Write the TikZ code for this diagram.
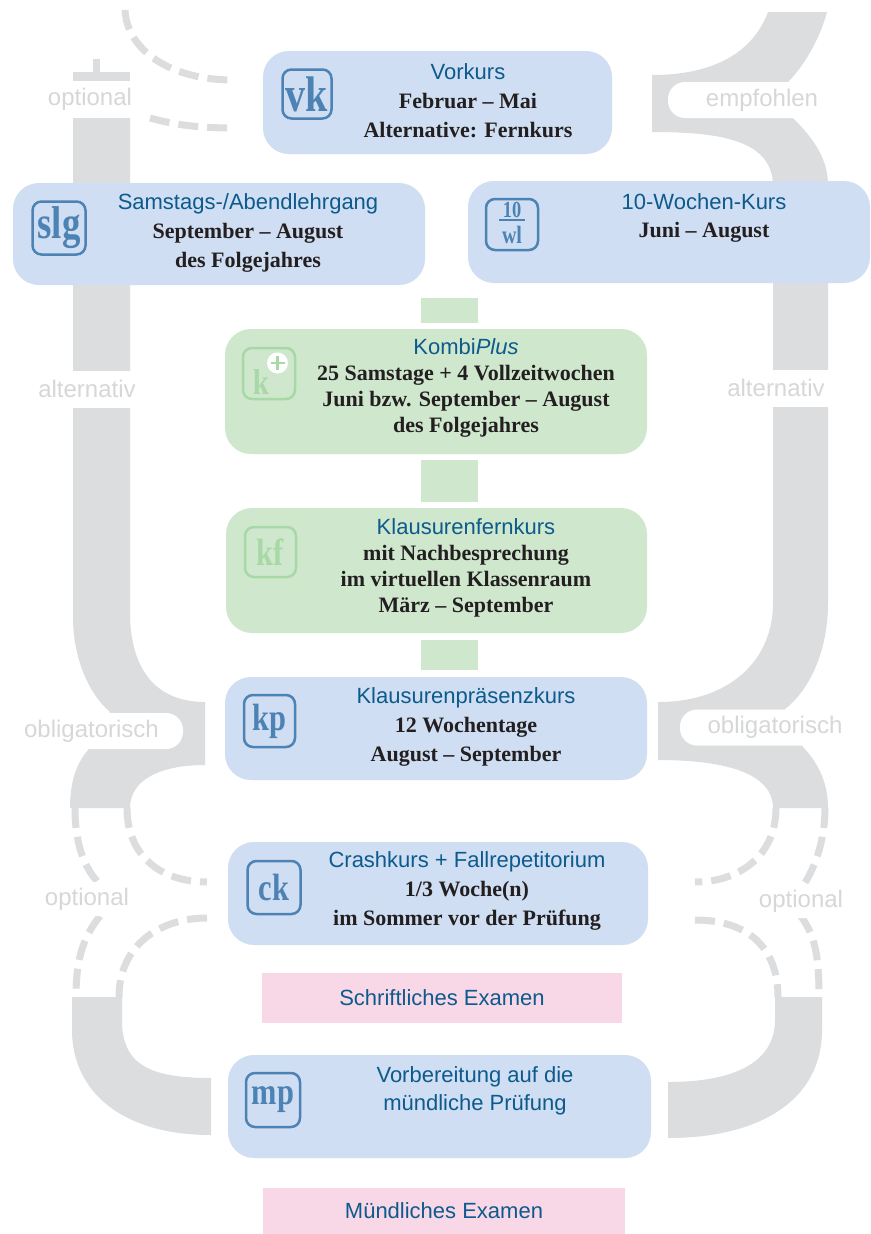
\documentclass[tikz,border=0pt]{standalone}
\usepackage{fontspec}
\setmainfont{Liberation Serif}
\setsansfont{Liberation Sans}
\usepackage{graphicx}
\usepackage{tikz}
\usetikzlibrary{backgrounds}

\definecolor{bandgrau}{HTML}{DCDDDF}
\definecolor{schriftgrau}{HTML}{D6D7D9}
\definecolor{kastenblau}{HTML}{CFDEF2}
\definecolor{kastengruen}{HTML}{CFE8CD}
\definecolor{kastenrosa}{HTML}{F8D7E6}
\definecolor{titelblau}{HTML}{0D5A8C}
\definecolor{symbolblau}{HTML}{4D82B4}
\definecolor{symbolgruen}{HTML}{A8D8A6}
\definecolor{textschwarz}{HTML}{231F20}

\newcommand{\kurs}[1]{{\sffamily\mdseries\color{titelblau}#1}}
\newcommand{\kuerzel}[2]{{\fontsize{#1}{#1}\selectfont\scalebox{0.8}[1]{#2}}}

\begin{document}
\begin{tikzpicture}[x=1pt, y=-1pt,
  grauband/.style={fill=bandgrau},
  optlinie/.style={draw=bandgrau, line width=7pt, dash pattern=on 20pt off 9pt},
  etikett/.style={text=schriftgrau, font=\sffamily\fontsize{24}{24}\selectfont, inner sep=0pt},
  pille/.style={etikett, fill=white, rounded corners=17pt, minimum height=36pt},
  kasten/.style={fill=kastenblau, rounded corners=26pt, inner sep=0pt},
  gruenkasten/.style={kasten, fill=kastengruen},
  pruefung/.style={fill=kastenrosa, minimum width=360pt, inner sep=0pt, text=titelblau, font=\sffamily\fontsize{22}{22}\selectfont},
  kursicon/.style={draw=symbolblau, line width=2.5pt, rounded corners=9pt, inner sep=0pt, text=symbolblau, font=\bfseries},
  gruenicon/.style={kursicon, draw=symbolgruen, text=symbolgruen},
  kurstext/.style={align=center, text=textschwarz, font=\bfseries\fontsize{22}{29}\selectfont},
  verbinder/.style={draw=kastengruen, line width=57pt}]
\path[use as bounding box, fill=white] (0,0) rectangle (870,1234);

\fill[grauband] (768,12) -- (827,12) .. controls (818,45) and (800,70) .. (788,82) -- (793,118) .. controls (815,140) and (828,160) .. (828,185) -- (828,603) .. controls (828,650) and (810,690) .. (785,709) -- (803,747) .. controls (820,765) and (828,785) .. (828,808) -- (773,808) .. controls (773,775) and (730,760) .. (658,760) -- (658,702) .. controls (730,702) and (773,660) .. (773,603) -- (773,185) .. controls (772,140) and (720,132) .. (652,132) -- (652,75) .. controls (710,75) and (752,55) .. (768,12) -- cycle;
\fill[grauband] (775,997) -- (822,997) -- (822,1030) .. controls (822,1100) and (760,1138) .. (668,1138) -- (668,1082) .. controls (735,1082) and (775,1062) .. (775,1020) -- cycle;
\fill[grauband] (73,118) -- (130,118) -- (130,617) .. controls (132,680) and (165,702) .. (205,702) -- (205,765) .. controls (160,765) and (130,780) .. (130,808) -- (70,808) .. controls (70,785) and (75,765) .. (88,750) -- (110,712) .. controls (90,695) and (73,660) .. (73,617) -- cycle;
\fill[grauband] (72,997) -- (122,997) -- (122,1020) .. controls (122,1065) and (150,1078) .. (211,1078) -- (211,1135) .. controls (120,1135) and (72,1090) .. (72,1030) -- cycle;
\fill[grauband] (73,72) rectangle (130,81);
\draw[bandgrau, line width=7pt] (96,59) -- (96,72);

\draw[optlinie] (125,10) .. controls (127,50) and (170,80) .. (233,80);
\draw[optlinie] (150,118) .. controls (175,125) and (200,128) .. (233,128);
\draw[optlinie] (75,808) .. controls (75,845) and (85,870) .. (100,884);
\draw[optlinie] (127,808) .. controls (127,855) and (160,882) .. (207,882);
\draw[optlinie] (100,916) .. controls (85,935) and (76,955) .. (76,997);
\draw[optlinie] (207,918) .. controls (160,918) and (119,945) .. (119,997);
\draw[optlinie] (776,808) .. controls (776,855) and (740,882) .. (695,882);
\draw[optlinie] (825,808) .. controls (825,840) and (815,870) .. (800,890);
\draw[optlinie] (695,920) .. controls (745,920) and (778,945) .. (778,997);
\draw[optlinie] (800,915) .. controls (815,935) and (819,955) .. (819,997);

\node[etikett] (opt1) at (90,99) {optional};
\node[pille, minimum width=188pt] (empf) at (762,100) {empfohlen};
\node[etikett, fill=white, minimum height=37pt, minimum width=104pt] (alt1) at (87,389) {alternativ};
\node[etikett, fill=white, minimum height=37pt, minimum width=112pt] (alt2) at (776,388) {alternativ};
\node[pille, minimum width=183pt] (obl1) at (91.5,731) {obligatorisch};
\node[pille, minimum width=190pt] (obl2) at (775,727.5) {obligatorisch};
\node[pille, minimum width=122pt, minimum height=34pt] (opt2) at (87,899) {optional};
\node[pille, minimum width=132pt, minimum height=34pt] (opt3) at (801,901) {optional};

\node[kasten, minimum width=349pt, minimum height=103pt] (vk) at (437.5,102.5) {};
\node[kasten, minimum width=412pt, minimum height=102pt] (slg) at (219,234) {};
\node[kasten, minimum width=402pt, minimum height=102pt] (zw) at (669,232) {};
\node[gruenkasten, minimum width=422pt, minimum height=125pt] (kombi) at (436,391.5) {};
\node[gruenkasten, minimum width=421pt, minimum height=125pt] (kf) at (436.5,570.5) {};
\node[kasten, minimum width=422pt, minimum height=103pt] (kp) at (436,728.5) {};
\node[kasten, minimum width=420pt, minimum height=103pt] (ck) at (438,893.5) {};
\node[pruefung, minimum height=50pt] (schriftlich) at (442,998) {Schriftliches Examen};
\node[kasten, minimum width=423pt, minimum height=103pt] (mp) at (439.5,1106.5) {};
\node[pruefung, minimum width=362pt, minimum height=46pt] (muendlich) at (444,1211) {Mündliches Examen};

\coordinate (achse) at (449.5,0);
\coordinate (oben) at (449.5,298);
\draw[verbinder, shorten >=6pt] (oben) -- (kombi.north -| achse);
\draw[verbinder, shorten <=6pt, shorten >=6pt] (kombi.south -| achse) -- (kf.north -| achse);
\draw[verbinder, shorten <=7pt, shorten >=7pt] (kf.south -| achse) -- (kp.north -| achse);

\node[kursicon, minimum size=49pt] (vkicon) at (307,94) {\kuerzel{50}{vk}};
\node[kursicon, minimum size=53pt] (slgicon) at (59,228) {\kuerzel{46}{slg}};
\node[kursicon, minimum width=52pt, minimum height=51pt] (zwicon) at (512,224.5) {};
\node[text=symbolblau, font=\bfseries, inner sep=0pt] (zwzahl) at (512,210) {\kuerzel{23}{10}};
\node[text=symbolblau, font=\bfseries, inner sep=0pt] (zwbuchst) at (512,235) {\kuerzel{25}{wl}};
\draw[symbolblau, line width=2pt] ([xshift=-13pt]zwicon.center |- 0,220) -- ([xshift=13pt]zwicon.center |- 0,220);
\node[gruenicon, minimum width=52pt, minimum height=51pt] (kombiicon) at (269,373.5) {};
\node[text=symbolgruen, font=\bfseries, inner sep=0pt] (kombik) at (261,382) {\kuerzel{36}{k}};
\node[circle, fill=white, minimum size=21pt, inner sep=0pt] (kombiplus) at (277.5,363) {};
\draw[symbolgruen, line width=2.5pt] ([yshift=7pt]kombiplus.center) -- ([yshift=-7pt]kombiplus.center) ([xshift=-7pt]kombiplus.center) -- ([xshift=7pt]kombiplus.center);
\node[gruenicon, minimum width=51pt, minimum height=50pt] (kficon) at (270.5,552) {\kuerzel{38}{kf}};
\node[kursicon, minimum width=51pt, minimum height=52pt] (kpicon) at (269.5,721) {\kuerzel{38}{kp}};
\node[kursicon, minimum size=53pt] (ckicon) at (274,887.5) {\kuerzel{38}{ck}};
\node[kursicon, minimum size=54pt] (mpicon) at (273,1100) {\kuerzel{38}{mp}};

\node[kurstext] (vktext) at (468,101) {\kurs{Vorkurs}\\Februar – Mai\\Alternative: Fernkurs};
\node[kurstext] (slgtext) at (248,233) {\kurs{Samstags-/Abendlehrgang}\\September – August\\des Folgejahres};
\node[kurstext, font=\bfseries\fontsize{22}{28}\selectfont] (zwtext) at (704,218) {\kurs{10-Wochen-Kurs}\\Juni – August};
\node[kurstext, font=\bfseries\fontsize{22}{26}\selectfont] (kombitext) at (466,388) {\kurs{Kombi\textit{Plus}}\\25 Samstage + 4 Vollzeitwochen\\Juni bzw. September – August\\des Folgejahres};
\node[kurstext, font=\bfseries\fontsize{22}{26}\selectfont] (kftext) at (466,568) {\kurs{Klausurenfernkurs}\\mit Nachbesprechung\\im virtuellen Klassenraum\\März – September};
\node[kurstext] (kptext) at (466,727) {\kurs{Klausurenpräsenzkurs}\\12 Wochentage\\August – September};
\node[kurstext] (cktext) at (467,891) {\kurs{Crashkurs + Fallrepetitorium}\\1/3 Woche(n)\\im Sommer vor der Prüfung};
\node[kurstext, font=\sffamily\fontsize{22}{28}\selectfont, text=titelblau] (mptext) at (475,1091) {Vorbereitung auf die\\mündliche Prüfung};
\end{tikzpicture}
\end{document}
